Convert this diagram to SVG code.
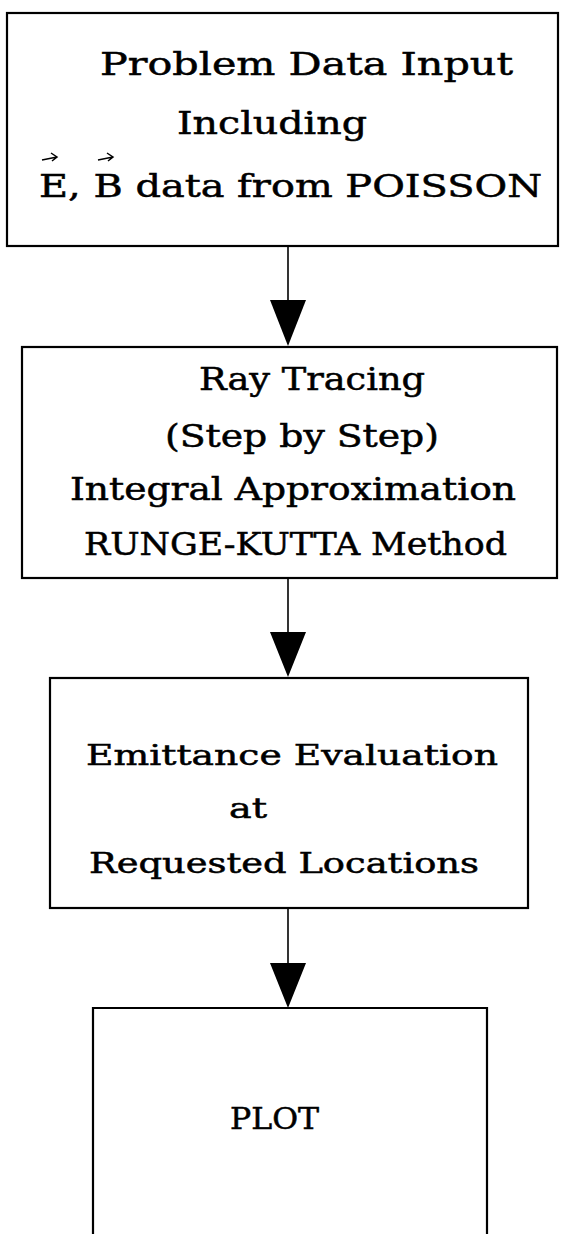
<svg xmlns="http://www.w3.org/2000/svg" width="561" height="1234" viewBox="0 0 561 1234">
<style>
.box{fill:#fff;stroke:#000;stroke-width:2.2}
.lbl{font-family:"DejaVu Serif","Liberation Serif",serif;fill:#000;stroke:#000;stroke-width:0.5}
.conn{stroke:#000;stroke-width:1.6;fill:none}
.head{fill:#000;stroke:none}
.vec{stroke:#000;stroke-width:1.5;fill:none}
</style>
<rect width="561" height="1234" fill="#fff"/>
<g id="connectors">
<line class="conn" x1="288" y1="246" x2="288" y2="302"/>
<polygon class="head" points="270,300 306,300 288,346"/>
<line class="conn" x1="288" y1="578" x2="288" y2="634"/>
<polygon class="head" points="270,632 306,632 288,677"/>
<line class="conn" x1="288" y1="908" x2="288" y2="965"/>
<polygon class="head" points="270,963 306,963 288,1008"/>
</g>
<g id="node1">
<rect class="box" x="7" y="13" width="551" height="233"/>
<text class="lbl" x="100" y="75" font-size="32" textLength="413" lengthAdjust="spacingAndGlyphs">Problem Data Input</text>
<text class="lbl" x="177" y="134" font-size="32" textLength="190" lengthAdjust="spacingAndGlyphs">Including</text>
<text class="lbl" x="39" y="197" font-size="32" textLength="503" lengthAdjust="spacingAndGlyphs">E, B data from POISSON</text>
<path class="vec" d="M42,160 L57,157 M51,153 L57,157 L52,161"/>
<path class="vec" d="M98,160 L113,157 M107,153 L113,157 L108,161"/>
</g>
<g id="node2">
<rect class="box" x="22" y="347" width="535" height="231"/>
<text class="lbl" x="199" y="390" font-size="31" textLength="226" lengthAdjust="spacingAndGlyphs">Ray Tracing</text>
<text class="lbl" x="165" y="447" font-size="31" textLength="274" lengthAdjust="spacingAndGlyphs">(Step by Step)</text>
<text class="lbl" x="70" y="500" font-size="31" textLength="446" lengthAdjust="spacingAndGlyphs">Integral Approximation</text>
<text class="lbl" x="84" y="555" font-size="31" textLength="423" lengthAdjust="spacingAndGlyphs">RUNGE-KUTTA Method</text>
</g>
<g id="node3">
<rect class="box" x="50" y="678" width="478" height="230"/>
<text class="lbl" x="86" y="765" font-size="27" textLength="412" lengthAdjust="spacingAndGlyphs">Emittance Evaluation</text>
<text class="lbl" x="229" y="818" font-size="27" textLength="38" lengthAdjust="spacingAndGlyphs">at</text>
<text class="lbl" x="89" y="873" font-size="27" textLength="390" lengthAdjust="spacingAndGlyphs">Requested Locations</text>
</g>
<g id="node4">
<path class="box" d="M93,1240 L93,1008 L487,1008 L487,1240"/>
<text class="lbl" x="230" y="1129" font-size="29" textLength="89" lengthAdjust="spacingAndGlyphs">PLOT</text>
</g>
</svg>
